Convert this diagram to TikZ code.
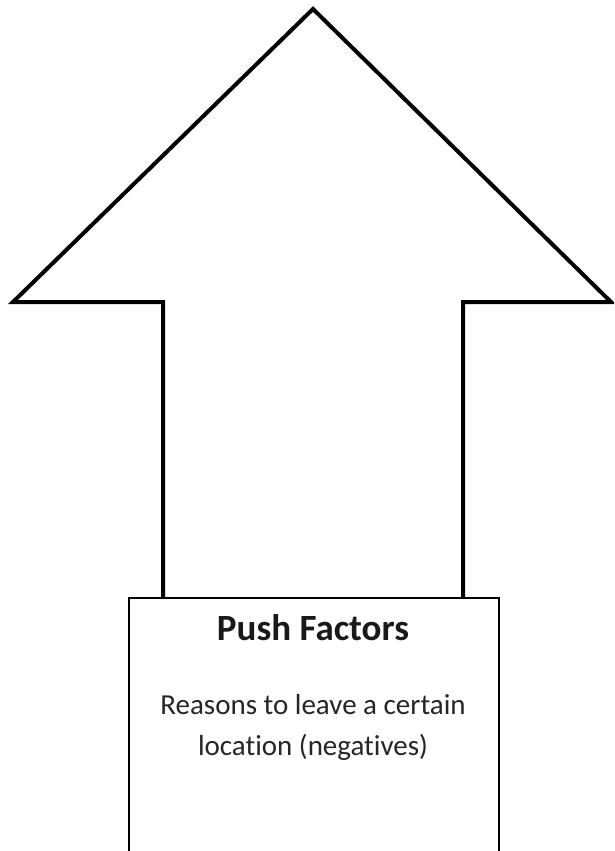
\documentclass[tikz,border=0pt]{standalone}
\usepackage{fontspec}
\setmainfont{Carlito}[Ligatures={NoCommon}]
\begin{document}
\begin{tikzpicture}[x=1pt,y=-1pt,
  arrowline/.style={draw=black,line width=4pt,line join=miter,fill=white},
  boxline/.style={draw=black,line width=1.6pt,fill=white},
  titletext/.style={font=\fontsize{37}{44}\selectfont\bfseries,text=black!90,inner sep=0pt},
  bodytext/.style={font=\fontsize{29}{40}\selectfont,text=black!85,inner sep=0pt}]
\useasboundingbox (0,0) rectangle (614,851);
\clip (0,0) rectangle (614,851);
\fill[white] (0,0) rectangle (614,851);
% big arrow
\draw[arrowline] (163,640) -- (163,302) -- (13,302) -- (313,9) -- (611,302) -- (463,302) -- (463,640);
% box
\node[boxline, minimum width=370pt, minimum height=300pt, anchor=north west, inner sep=0pt] (box) at (128,597) {};
\node[titletext, anchor=base] (title) at (313,640) {Push Factors};
\node[bodytext, anchor=base] (body1) at (313,714) {Reasons to leave a certain};
\node[bodytext, anchor=base] (body2) at (313,755) {location (negatives)};
\end{tikzpicture}
\end{document}
